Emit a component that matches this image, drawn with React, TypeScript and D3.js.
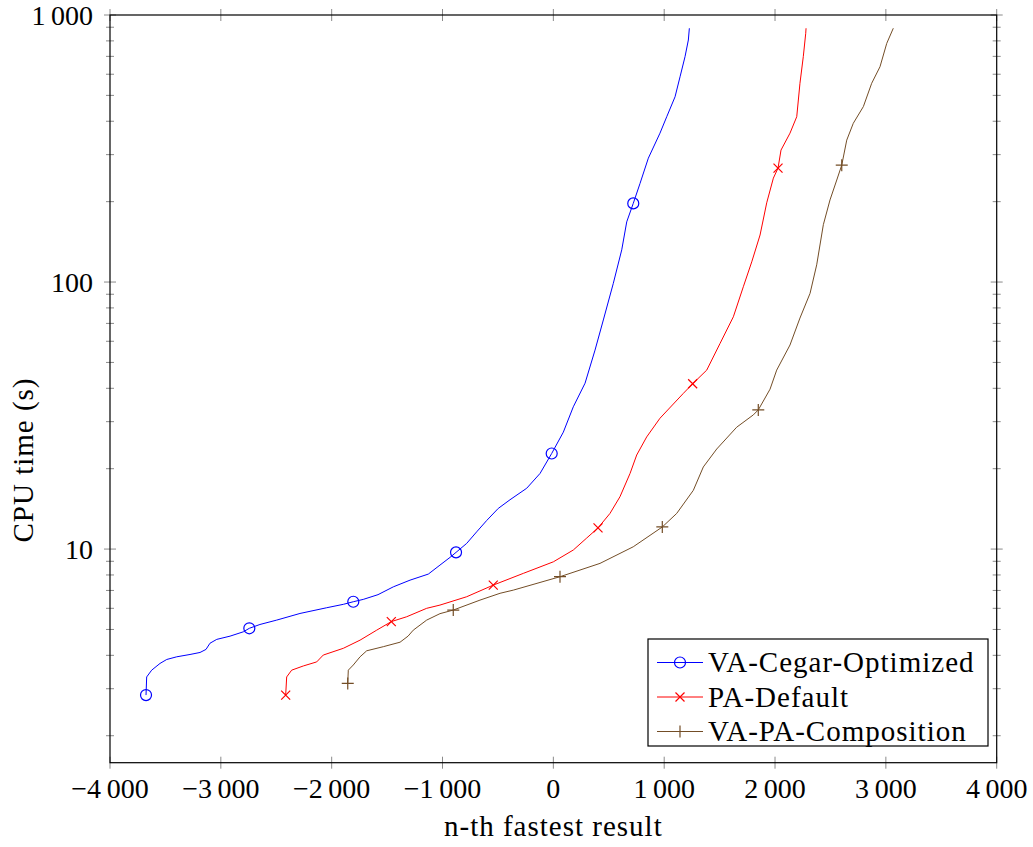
import React from "react";
import * as d3 from "d3";

// Quantile plot: CPU time of the n-th fastest result for three analysis configurations.
type Pt = [number, number];

const xTickValues = [-4000, -3000, -2000, -1000, 0, 1000, 2000, 3000, 4000];
const yMajorTicks = [10, 100, 1000];

const seriesNames = ["VA-Cegar-Optimized", "PA-Default", "VA-PA-Composition"];

const vaCegarOptimized: Pt[] = [
  [-3675, 2.84], [-3669, 3.32], [-3624, 3.52], [-3549, 3.73], [-3488, 3.86],
  [-3398, 3.95], [-3278, 4.03], [-3188, 4.1], [-3134, 4.21], [-3098, 4.44],
  [-3037, 4.59], [-2917, 4.72], [-2797, 4.9], [-2743, 5.05], [-2647, 5.22],
  [-2496, 5.42], [-2286, 5.74], [-2045, 6.03], [-1895, 6.21], [-1805, 6.35],
  [-1715, 6.48], [-1582, 6.75], [-1444, 7.22], [-1293, 7.65], [-1128, 8.06],
  [-1023, 8.71], [-932, 9.31], [-878, 9.72], [-782, 10.5], [-692, 11.6],
  [-601, 12.8], [-497, 14.2], [-391, 15.3], [-240, 16.9], [-120, 19.2],
  [-15, 22.8], [90, 27.4], [180, 34.1], [286, 41.8], [376, 55.6],
  [451, 72.1], [541, 98.9], [617, 132], [662, 168], [721, 197],
  [782, 234], [857, 291], [962, 361], [1023, 416], [1098, 494],
  [1143, 587], [1188, 698], [1218, 806], [1227, 892],
];
const vaCegarOptimizedMarks: Pt[] = [
  [-3675, 2.84], [-2743, 5.05], [-1805, 6.35], [-878, 9.72], [-15, 22.8], [721, 197],
];

const paDefault: Pt[] = [
  [-2415, 2.84], [-2406, 3.32], [-2361, 3.52], [-2256, 3.65], [-2135, 3.78],
  [-2076, 4.01], [-1895, 4.25], [-1744, 4.56], [-1594, 4.97], [-1462, 5.35],
  [-1323, 5.58], [-1143, 6.0], [-1023, 6.17], [-782, 6.63], [-542, 7.33],
  [-271, 8.11], [0, 8.96], [180, 9.92], [301, 11.0], [403, 12.0],
  [511, 13.6], [601, 15.7], [692, 19.2], [752, 22.5], [842, 26.3],
  [962, 30.9], [1173, 38.3], [1257, 41.6], [1384, 46.8], [1504, 58.9],
  [1624, 74.1], [1714, 96.0], [1790, 119], [1865, 150], [1925, 198],
  [1985, 245], [2027, 267], [2054, 312], [2135, 361], [2196, 416],
  [2225, 555], [2255, 698], [2277, 854], [2280, 892],
];
const paDefaultMarks: Pt[] = [
  [-2415, 2.84], [-1462, 5.35], [-542, 7.33], [403, 12.0], [1257, 41.6], [2027, 267],
];

const vaPaComposition: Pt[] = [
  [-1855, 3.14], [-1850, 3.52], [-1805, 3.68], [-1744, 3.95], [-1684, 4.16],
  [-1534, 4.31], [-1383, 4.48], [-1311, 4.72], [-1264, 4.97], [-1143, 5.42],
  [-1023, 5.73], [-903, 5.91], [-662, 6.44], [-481, 6.83], [-361, 7.02],
  [60, 7.88], [421, 8.84], [721, 10.2], [983, 12.1], [1113, 13.6],
  [1263, 16.6], [1353, 20.3], [1474, 23.7], [1654, 28.6], [1804, 31.8],
  [1849, 33.2], [1955, 39.7], [2015, 46.8], [2135, 58.1], [2225, 73.3],
  [2316, 90.7], [2376, 116], [2436, 164], [2496, 203], [2557, 241],
  [2602, 274], [2647, 340], [2706, 393], [2797, 454], [2872, 555],
  [2947, 640], [3008, 783], [3067, 892],
];
const vaPaCompositionMarks: Pt[] = [
  [-1855, 3.14], [-903, 5.91], [60, 7.88], [983, 12.1], [1849, 33.2], [2602, 274],
];

const WIDTH = 1033;
const HEIGHT = 847;
const PLOT = { left: 110, right: 996.7, top: 15, bottom: 762.7 };
const FONT = "'Liberation Serif', 'Times New Roman', serif";
const TICK_FONT_SIZE = 28;
const LABEL_FONT_SIZE = 29;
const LABEL_SPACING = 1;

const COLORS = ["#0000ff", "#ff0000", "#734d26"];
type MarkKind = "circle" | "cross" | "plus";
const MARKS: MarkKind[] = ["circle", "cross", "plus"];

const x = d3.scaleLinear().domain([-4000, 4000]).range([PLOT.left, PLOT.right]);
const y = d3.scaleLog().domain([1.585, 1000]).range([PLOT.bottom, PLOT.top]);

const line = d3
  .line<Pt>()
  .x((d) => x(d[0]))
  .y((d) => y(d[1]))
  .curve(d3.curveLinear);

function fmtTick(v: number): string {
  const s = Math.abs(v).toString().replace(/\B(?=(\d{3})+(?!\d))/g, "\u2009");
  return v < 0 ? "\u2212" + s : s;
}

function Marker({ kind, cx, cy, color }: { kind: MarkKind; cx: number; cy: number; color: string }) {
  if (kind === "circle") {
    return <circle cx={cx} cy={cy} r={5.5} fill="none" stroke={color} strokeWidth={1.2} />;
  }
  if (kind === "cross") {
    const s = 4.5;
    return (
      <path
        d={`M${cx - s},${cy - s}L${cx + s},${cy + s}M${cx - s},${cy + s}L${cx + s},${cy - s}`}
        stroke={color}
        strokeWidth={1.2}
      />
    );
  }
  const s = 6;
  return (
    <path d={`M${cx - s},${cy}L${cx + s},${cy}M${cx},${cy - s}L${cx},${cy + s}`} stroke={color} strokeWidth={1.2} />
  );
}

export default function App() {
  const series = [
    { name: seriesNames[0], data: vaCegarOptimized, marks: vaCegarOptimizedMarks },
    { name: seriesNames[1], data: paDefault, marks: paDefaultMarks },
    { name: seriesNames[2], data: vaPaComposition, marks: vaPaCompositionMarks },
  ];

  const [yMin, yMax] = y.domain();
  const minorY: number[] = [];
  for (let dec = 1; dec <= 100; dec *= 10) {
    for (let k = 1; k <= 9; k++) {
      const v = k * dec;
      if (v >= yMin && v <= yMax && !yMajorTicks.includes(v)) minorY.push(v);
    }
  }

  const tickColor = "#8a8a8a";
  const legend = { x: 648, y: 639, w: 340, h: 107 };
  const rowY = [662.5, 697, 731.5];

  return (
    <svg
      width={WIDTH}
      height={HEIGHT}
      style={{ position: "absolute", left: 0, top: 0, background: "#fff" }}
      fontFamily={FONT}
    >
      <rect x={0} y={0} width={WIDTH} height={HEIGHT} fill="#fff" />

      {/* ticks */}
      <g stroke={tickColor} strokeWidth={1}>
        {xTickValues.map((v) => (
          <g key={`xt${v}`}>
            <line x1={x(v)} x2={x(v)} y1={PLOT.bottom - 6} y2={PLOT.bottom + 6} />
            <line x1={x(v)} x2={x(v)} y1={PLOT.top - 6} y2={PLOT.top + 6} />
          </g>
        ))}
        {yMajorTicks.map((v) => (
          <g key={`yt${v}`}>
            <line x1={PLOT.left - 6} x2={PLOT.left + 6} y1={y(v)} y2={y(v)} />
            <line x1={PLOT.right - 6} x2={PLOT.right + 6} y1={y(v)} y2={y(v)} />
          </g>
        ))}
        {minorY.map((v) => (
          <g key={`ym${v}`}>
            <line x1={PLOT.left - 4} x2={PLOT.left + 4} y1={y(v)} y2={y(v)} />
            <line x1={PLOT.right - 4} x2={PLOT.right + 4} y1={y(v)} y2={y(v)} />
          </g>
        ))}
      </g>

      {/* series */}
      {series.map((s, i) => (
        <g key={s.name}>
          <path d={line(s.data) ?? ""} fill="none" stroke={COLORS[i]} strokeWidth={1} strokeLinejoin="round" />
          {s.marks.map((m, j) => (
            <Marker key={j} kind={MARKS[i]} cx={x(m[0])} cy={y(m[1])} color={COLORS[i]} />
          ))}
        </g>
      ))}

      {/* frame */}
      <rect
        x={PLOT.left}
        y={PLOT.top}
        width={PLOT.right - PLOT.left}
        height={PLOT.bottom - PLOT.top}
        fill="none"
        stroke="#000"
        strokeWidth={1.2}
      />

      {/* tick labels */}
      <g fontSize={TICK_FONT_SIZE} fill="#000">
        {xTickValues.map((v) => (
          <text key={`xl${v}`} x={x(v)} y={798} textAnchor="middle">
            {fmtTick(v)}
          </text>
        ))}
        {yMajorTicks.map((v) => (
          <text key={`yl${v}`} x={93} y={y(v) + 9.5} textAnchor="end">
            {fmtTick(v)}
          </text>
        ))}
      </g>

      {/* axis labels */}
      <text
        x={(PLOT.left + PLOT.right) / 2}
        y={836}
        textAnchor="middle"
        fontSize={LABEL_FONT_SIZE}
        letterSpacing={LABEL_SPACING}
      >
        n-th fastest result
      </text>
      <text
        transform="translate(33, 460) rotate(-90)"
        textAnchor="middle"
        fontSize={LABEL_FONT_SIZE}
        letterSpacing={LABEL_SPACING}
      >
        CPU time (s)
      </text>

      {/* legend */}
      <rect x={legend.x} y={legend.y} width={legend.w} height={legend.h} fill="#fff" stroke="#000" strokeWidth={1.2} />
      {series.map((s, i) => (
        <g key={`lg${i}`}>
          <line x1={657} x2={703} y1={rowY[i]} y2={rowY[i]} stroke={COLORS[i]} strokeWidth={1} />
          <Marker kind={MARKS[i]} cx={680} cy={rowY[i]} color={COLORS[i]} />
          <text x={708} y={rowY[i] + 9.5} fontSize={LABEL_FONT_SIZE} letterSpacing={LABEL_SPACING}>
            {s.name}
          </text>
        </g>
      ))}
    </svg>
  );
}
